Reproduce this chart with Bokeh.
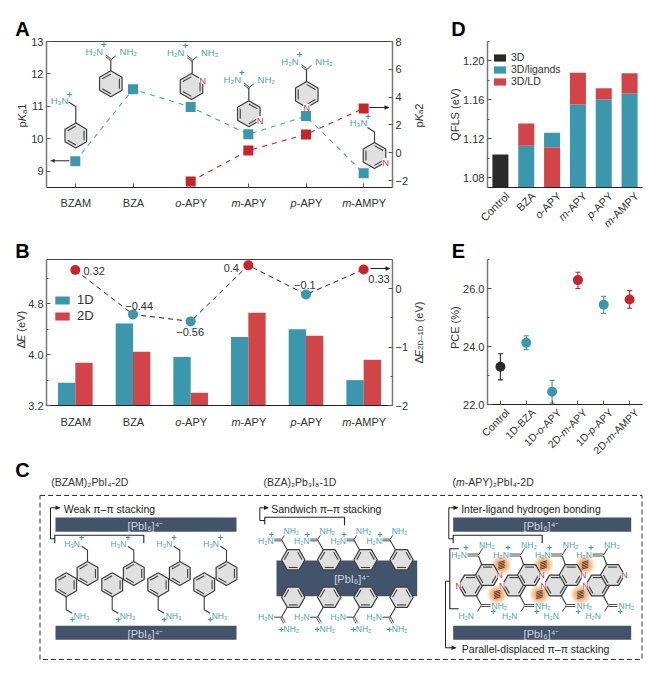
import math
from bokeh.plotting import figure
from bokeh.layouts import column, row
from bokeh.models import (Range1d, LinearAxis, FixedTicker, Label, Legend, LegendItem,
                          PrintfTickFormatter)
from bokeh.core.properties import value
from bokeh.embed import file_html
from bokeh.resources import INLINE

# ---------------- data ----------------
ligands = ["BZAM", "BZA", "o-APY", "m-APY", "p-APY", "m-AMPY"]
pka1 = [9.31, 11.53, 10.98, 10.14, 10.70, 8.94]
pka2_x = [2, 3, 4, 5]
pka2 = [-2.07, 0.16, 1.32, 3.19]
de_1d = [3.56, 4.49, 3.965, 4.28, 4.40, 3.60]
de_2d = [3.875, 4.045, 3.40, 4.66, 4.30, 3.92]
de_diff = [0.32, -0.44, -0.56, 0.40, -0.10, 0.33]
de_diff_labels = ["0.32", "\u22120.44", "\u22120.56", "0.4", "\u22120.1", "0.33"]
qfls_cats = ["Control", "BZA", "o-APY", "m-APY", "p-APY", "m-AMPY"]
qfls_3d = [1.1038]
qfls_ligands = [1.1128, 1.1263, 1.1553, 1.1605, 1.1667]
qfls_ld = [1.1357, 1.111, 1.1878, 1.1719, 1.1875]
pce_cats = ["Control", "1D-BZA", "1D-o-APY", "2D-m-APY", "1D-p-APY", "2D-m-AMPY"]
pce = [23.3, 24.13, 22.44, 26.29, 25.44, 25.62]
pce_hi = [23.75, 24.37, 22.83, 26.56, 25.73, 25.93]
pce_lo = [22.85, 23.89, 22.05, 26.0, 25.14, 25.32]

# ---------------- styles ----------------
TEAL = "#3a97ad"
TEAL_T = "#4ba3b8"
RED = "#c8242b"
RED_B = "#d24448"
DARK = "#2a2a2a"
TXT = "#333333"
SLATE = "#43536b"
FONT = "Liberation Sans"
W = {"A": .667, "B": .667, "C": .722, "D": .722, "E": .667, "F": .611, "G": .778, "H": .722, "I": .278,
     "K": .667, "L": .556, "M": .833, "N": .722, "O": .778, "P": .667, "Q": .778, "R": .722, "S": .667,
     "T": .611, "V": .667, "Y": .667, "Z": .611, "a": .556, "b": .556, "c": .5, "d": .556, "e": .556,
     "g": .556, "h": .556, "i": .222, "k": .5, "l": .222, "m": .833, "n": .556, "o": .556, "p": .556,
     "r": .333, "s": .5, "t": .278, "u": .556, "w": .722, "y": .5, "-": .333, "(": .333, ")": .333,
     " ": .278, "\u00a0": .278, "/": .278, "\u2082": .36, "\u2083": .36, "\u2084": .36}


class Panel:
    """Figure whose frame fills the canvas; maps reference-page pixels to data values."""

    def __init__(self, cx0, cy0, cw, ch, x0, x1, y0, y1, xa, xb, ytop, ybot, extra=None):
        self.x0, self.x1, self.y0, self.y1 = x0, x1, y0, y1
        self.xa, self.xb, self.ytop, self.ybot = xa, xb, ytop, ybot
        self.p = figure(width=cw, height=ch, toolbar_location=None, output_backend="svg", tools="",
                        min_border=0, x_axis_location=None, y_axis_location=None,
                        x_range=Range1d(self.fx(cx0), self.fx(cx0 + cw)),
                        y_range=Range1d(self.fy(cy0 + ch), self.fy(cy0)))
        self.p.grid.visible = False
        self.p.outline_line_color = None
        self.p.background_fill_alpha = 0
        self.p.border_fill_alpha = 0
        if extra:
            t, b = extra
            k = (b - t) / (y1 - y0)
            self.p.extra_y_ranges = {"r": Range1d(t + (cy0 + ch - y0) * k, t + (cy0 - y0) * k)}

    def fx(self, px):
        return self.xa + (px - self.x0) * (self.xb - self.xa) / (self.x1 - self.x0)

    def fy(self, py):
        return self.ytop + (py - self.y0) * (self.ybot - self.ytop) / (self.y1 - self.y0)

    def px(self, x):
        return self.x0 + (x - self.xa) * (self.x1 - self.x0) / (self.xb - self.xa)


def seg_w(t, size):
    return sum(W.get(c, .556) for c in t) * size


def rich(P, px, py, segs, size=11, color=TXT, align="left", angle=0, font=FONT):
    """Text made of several runs. (px, py) is the vertical centre of the text at its anchor."""
    a = math.radians(angle)
    dx, dy = math.cos(a), -math.sin(a)      # along the text, reference pixels, y down
    nx, ny = math.sin(a), math.cos(a)       # towards below the text
    widths = [seg_w(t, size * .72 if k == "sub" else size) for t, k in segs]
    tot = sum(widths)
    s = {"left": 0, "center": -tot / 2, "right": -tot}[align]
    for (t, k), wd in zip(segs, widths):
        sz = size * .72 if k == "sub" else size
        drop = size * .22 if k == "sub" else 0
        x = px + dx * s + nx * drop
        y = py + dy * s + ny * drop
        P.p.add_layout(Label(x=P.fx(x), y=P.fy(y), text=t, text_font=font,
                             text_font_size=f"{sz:.1f}px", text_color=color,
                             text_font_style="italic" if k == "i" else "normal",
                             text_align="left", text_baseline="alphabetic",
                             angle=angle, angle_units="deg"))
        s += wd


def name_segs(name):
    """Italicise a positional prefix such as o-, m-, p-."""
    for pre in ("1D-", "2D-", ""):
        if name.startswith(pre) and name[len(pre):len(pre) + 2] in ("o-", "m-", "p-"):
            out = [(pre, "n")] if pre else []
            return out + [(name[len(pre)], "i"), (name[len(pre) + 1:], "n")]
    return [(name, "n")]


def letter(P, px, py, t):
    P.p.add_layout(Label(x=P.fx(px), y=P.fy(py + 4), text=t, text_font=FONT,
                         text_font_size="20px", text_font_style="bold", text_color="#000000",
                         text_align="center", text_baseline="alphabetic"))


def line(P, pts, color="#222222", width=1.1, dash="solid"):
    P.p.line([P.fx(a) for a, _ in pts], [P.fy(b) for _, b in pts], line_color=color,
             line_width=width, line_dash=dash)


def arrow(P, pts, color="#222222", width=1.0):
    line(P, pts, color, width)
    (x0, y0), (x1, y1) = pts[-2], pts[-1]
    L = math.hypot(x1 - x0, y1 - y0)
    ux, uy = (x1 - x0) / L, (y1 - y0) / L
    hx = [x1 + 1, x1 - 4 * ux - 2.2 * uy, x1 - 4 * ux + 2.2 * uy]
    hy = [y1, y1 - 4 * uy + 2.2 * ux, y1 - 4 * uy - 2.2 * ux]
    P.p.patch([P.fx(v) for v in hx], [P.fy(v) for v in hy], fill_color=color, line_color=None)


def text(P, px, py, t, color=TEAL_T, size=9.5, align="center", bold=False):
    P.p.text([P.fx(px)], [P.fy(py)], text=[t], text_color=color, text_font=value(FONT),
             text_font_size=f"{size}px", text_align=align, text_baseline="middle",
             text_font_style="bold" if bold else "normal")


def ring(P, cx, cy, r=12.0, pointy=True, N=None, dbl=0, nsize=9):
    """Hexagon with inner double bonds; N = vertex index that carries the nitrogen."""
    start = 90 if pointy else 0
    v = [(cx + r * math.cos(math.radians(start + 60 * k)), cy - r * math.sin(math.radians(start + 60 * k)))
         for k in range(6)]
    P.p.patch([P.fx(a) for a, _ in v], [P.fy(b) for _, b in v], fill_color="#e0e0e0",
              line_color="#3c3c3c", line_width=1.2)
    for k in range(dbl, 6, 2):
        a, b = v[k], v[(k + 1) % 6]
        f = .76
        line(P, [(cx + (a[0] - cx) * f, cy + (a[1] - cy) * f), (cx + (b[0] - cx) * f, cy + (b[1] - cy) * f)],
             "#3c3c3c", 1.1)
    if N is not None:
        nx, ny = v[N]
        P.p.scatter([P.fx(nx)], [P.fy(ny)], size=8, fill_color="#ffffff", line_color=None)
        text(P, nx, ny, "N", "#d8343f", nsize)
    return v


def amidine_up(P, x, yc, ytop):
    line(P, [(x, ytop), (x, yc)], "#3c3c3c", 1.2)
    line(P, [(x, yc), (x + 5, yc - 4)], "#3c3c3c", 1.0)
    line(P, [(x, yc - 1), (x - 5, yc - 5)], "#3c3c3c", 1.0)
    line(P, [(x, yc + 1), (x - 5, yc - 3)], "#3c3c3c", 1.0)
    text(P, x - 16.5, yc - 8, "H\u2082N")
    text(P, x + 17.5, yc - 8, "NH\u2082")
    text(P, x - 7, yc - 14.5, "+", TEAL, 9.5, bold=True)


def style_axis(ax, ticks, minor=(), color="#777777", lw=1.5, in_len=4):
    ax.ticker = FixedTicker(ticks=list(ticks), minor_ticks=list(minor))
    ax.axis_line_color = color
    ax.axis_line_width = lw
    ax.major_tick_line_color = "#555555"
    ax.minor_tick_line_color = "#555555"
    ax.major_tick_in = in_len
    ax.major_tick_out = 0
    ax.minor_tick_in = 2
    ax.minor_tick_out = 0
    ax.major_label_text_font = FONT
    ax.major_label_text_font_size = "11px"
    ax.major_label_text_color = TXT
    ax.major_label_standoff = 3


def add_y(P, side, where, bounds, ticks, minor=(), fmt=None, overrides=None, range_name=None):
    ax = LinearAxis(fixed_location=where, bounds=bounds)
    if range_name:
        ax.y_range_name = range_name
    style_axis(ax, ticks, minor)
    if fmt:
        ax.formatter = PrintfTickFormatter(format=fmt)
    if overrides:
        ax.major_label_overrides = overrides
    P.p.add_layout(ax, side)
    return ax


def add_x(P, where, ticks, in_len=4):
    ax = LinearAxis(fixed_location=where, bounds=(-.5, 5.5))
    style_axis(ax, ticks, (), "#222222", 1.2, in_len)
    ax.major_label_overrides = {t: "" for t in ticks}
    ax.major_label_text_font_size = "1px"
    P.p.add_layout(ax, "below")
    return ax


xs = list(range(6))

# ---------------- panel A ----------------
PA = Panel(0, 0, 440, 232, 46, 392, 41, 187, -.5, 5.5, 13, 8.5, extra=(8, -2.5))
pA = PA.p
add_y(PA, "left", -.5, (8.5, 13), range(9, 14))
add_y(PA, "right", 5.5, (-2.5, 8), [-2, 0, 2, 4, 6, 8],
      overrides={-2: "\u22122", 0: "0", 2: "2", 4: "4", 6: "6", 8: "8"}, range_name="r")
add_x(PA, 8.5, range(6))
pA.line([-.5, 5.5], [13, 13], line_color="#444444", line_width=1.2)

pA.line(xs, pka1, line_color=TEAL_T, line_dash="5 5", line_width=1.1)
pA.line(pka2_x, pka2, line_color=RED, line_dash="5 5", line_width=1.1, y_range_name="r")

# molecules in A
ring(PA, 75.3, 135, 12.5)
line(PA, [(75.3, 122.5), (75.3, 106), (68, 101.5)], "#3c3c3c", 1.2)
text(PA, 59, 100, "H\u2083N")
text(PA, 69, 94, "+", TEAL, 9.5, bold=True)
ring(PA, 110.3, 83.3, 13)
amidine_up(PA, 110.3, 59.3, 70.3)
ring(PA, 191, 86, 13, N=5, nsize=9.5)
amidine_up(PA, 191.7, 60, 73)
ring(PA, 248.3, 113.3, 13, N=4, nsize=9.5, dbl=1)
amidine_up(PA, 248.3, 87.3, 100.3)
ring(PA, 306.3, 94, 13, N=3, nsize=9.5, dbl=1)
amidine_up(PA, 306, 69, 81)
ring(PA, 374, 155, 13, N=4, nsize=9.5, dbl=1)
line(PA, [(374, 142), (374, 131.5), (367, 127)], "#3c3c3c", 1.2)
text(PA, 358, 122, "H\u2083N")
text(PA, 367.5, 116, "+", TEAL, 9.5, bold=True)
arrow(PA, [(69, 160.3), (50, 160.3)])
arrow(PA, [(369, 107), (388, 107)])

pA.scatter(xs, pka1, marker="square", size=10, fill_color=TEAL, line_color=None)
pA.scatter(pka2_x, pka2, marker="square", size=10, fill_color=RED, line_color=None, y_range_name="r")

for i, n in enumerate(ligands):
    rich(PA, PA.px(i) + 0.5, 202, name_segs(n), align="center")
rich(PA, 21.7, 115, [("p", "n"), ("K", "i"), ("a", "sub"), ("1", "n")], align="center", angle=90)
rich(PA, 418, 115, [("p", "n"), ("K", "i"), ("a", "sub"), ("2", "n")], align="center", angle=90)
letter(PA, 22, 24, "A")

# ---------------- panel B ----------------
PB = Panel(0, 232, 440, 226, 46, 392, 259, 405, -.5, 5.5, 5.5, 3.2, extra=(.5, -2))
pB = PB.p
b1 = pB.vbar([i - .15 for i in xs], width=.30, top=de_1d, bottom=3.2, fill_color=TEAL, line_color=None)
b2 = pB.vbar([i + .15 for i in xs], width=.30, top=de_2d, bottom=3.2, fill_color=RED_B, line_color=None)
add_y(PB, "left", -.5, (3.2, 5.5), [3.2, 4.0, 4.8], [3.6, 4.4, 5.2], fmt="%.1f")
add_y(PB, "right", 5.5, (-2, .5), [-2, -1, 0], [-1.5, -.5],
      overrides={-2: "\u22122", -1: "\u22121", 0: "0"}, range_name="r")
add_x(PB, 3.2, range(6), 0)
pB.line([-.5, 5.5], [5.5, 5.5], line_color="#444444", line_width=1.2)
pB.add_layout(Legend(items=[LegendItem(label="1D", renderers=[b1]), LegendItem(label="2D", renderers=[b2])],
                     location=(53, 135), padding=0, margin=0, spacing=1, glyph_width=18, glyph_height=10,
                     label_height=10, label_standoff=6, label_text_font=FONT, label_text_font_size="13px",
                     label_text_color=TXT, background_fill_alpha=0, border_line_color=None))
pB.line(xs, de_diff, line_color="#222222", line_dash="5 4", line_width=1.0, y_range_name="r")
pB.scatter(xs, de_diff, marker="circle", size=10, line_color=None, y_range_name="r",
           fill_color=[RED if v > 0 else TEAL for v in de_diff])
label_pos = [(83, 270.3, "left"), (140, 305.7, "center"), (191, 331.3, "center"), (232.3, 267, "center"),
             (305.7, 284, "center"), (380, 278.3, "center")]
for (lx, ly, al), t in zip(label_pos, de_diff_labels):
    rich(PB, lx, ly, [(t, "n")], size=11, align=al)
arrow(PB, [(370, 268), (389, 268)])
for i, n in enumerate(ligands):
    rich(PB, PB.px(i) + 0.5, 421, name_segs(n), align="center")
rich(PB, 20.7, 329, [("\u0394", "n"), ("E", "i"), ("\u00a0(eV)", "n")], align="center", angle=90)
rich(PB, 418, 332, [("\u0394", "n"), ("E", "i"), ("2D\u20131D", "sub"), ("\u00a0(eV)", "n")], align="center", angle=90)
letter(PB, 22, 246, "B")

# ---------------- panel D ----------------
PD = Panel(440, 0, 204, 232, 487, 642, 41, 187, -.5, 5.5, 1.22, 1.07)
pD = PD.p
xl = xs[1:]
blue_bot = [1.07 if a <= b else b for a, b in zip(qfls_ligands, qfls_ld)]
red_bot = [1.07 if b < a else a for a, b in zip(qfls_ligands, qfls_ld)]
d0 = pD.vbar(xs[:1], width=.62, top=qfls_3d, bottom=1.07, fill_color=DARK, line_color=None)
d1 = pD.vbar(xl, width=.62, top=qfls_ligands, bottom=blue_bot, fill_color=TEAL, line_color=None)
d2 = pD.vbar(xl, width=.62, top=qfls_ld, bottom=red_bot, fill_color=RED_B, line_color=None)
add_y(PD, "left", -.5, (1.07, 1.22), [1.08, 1.12, 1.16, 1.20], [1.10, 1.14, 1.18, 1.22], fmt="%.2f")
add_x(PD, 1.07, range(6), 0)
pD.add_layout(Legend(items=[LegendItem(label="3D", renderers=[d0]), LegendItem(label="3D/ligands", renderers=[d1]),
                            LegendItem(label="3D/LD", renderers=[d2])],
                     location=(52, 145), padding=0, margin=0, spacing=0, glyph_width=15, glyph_height=9,
                     label_height=9, label_standoff=4, label_text_font=FONT, label_text_font_size="10.5px",
                     label_text_color=TXT, background_fill_alpha=0, border_line_color=None))
for i, n in enumerate(qfls_cats):
    rich(PD, PD.px(i) + 7, 193.5, name_segs(n), align="right", angle=45)
rich(PD, 454, 114, [("QFLS (eV)", "n")], align="center", angle=90)
letter(PD, 458, 24, "D")

# ---------------- panel E ----------------
PE = Panel(440, 232, 204, 226, 487, 642, 259, 404, -.5, 5.5, 27, 22)
pE = PE.p
add_y(PE, "left", -.5, (22, 27), [22, 24, 26], [23, 25, 27], fmt="%.1f")
add_x(PE, 22, range(6))
pce_colors = [DARK, TEAL, TEAL, RED, TEAL, RED]
pE.segment(xs, pce_lo, xs, pce_hi, line_color=pce_colors, line_width=1.1)
pE.scatter(xs, pce_hi, marker="dash", size=5, line_color=pce_colors, line_width=1.1)
pE.scatter(xs, pce_lo, marker="dash", size=5, line_color=pce_colors, line_width=1.1)
pE.scatter(xs, pce, marker="circle", size=10, fill_color=pce_colors, line_color=None)
for i, n in enumerate(pce_cats):
    rich(PE, PE.px(i) + 7, 410, name_segs(n), size=10.5, align="right", angle=45)
rich(PE, 454, 329, [("PCE (%)", "n")], align="center", angle=90)
letter(PE, 458, 246, "E")

# ---------------- panel C (schematic, drawn in page pixels) ----------------
PC = Panel(0, 458, 644, 207, 0, 644, 458, 665, 0, 644, 458, 665)
pC = PC.p
letter(PC, 22, 465, "C")
rich(PC, 50.7, 481.7, [("(BZAM)\u2082PbI\u2084-2D", "n")], size=10.5)
rich(PC, 263, 481.7, [("(BZA)\u2082Pb\u2083I\u2088-1D", "n")], size=10.5)
rich(PC, 452, 481.7, [("(", "n"), ("m", "i"), ("-APY)\u2082PbI\u2084-2D", "n")], size=10.5)
line(PC, [(39.5, 495), (641.5, 495), (641.5, 659), (39.5, 659), (39.5, 495)], "#333333", 1.0, "5 3")


def pbi_bar(x0, x1, y0, y1, cx, cy):
    pC.quad(left=[x0], right=[x1], top=[y0], bottom=[y1], fill_color=SLATE, line_color=None)
    text(PC, cx, cy, "[PbI\u2086]\u2074\u207b", "#ced5dd", 11)


for xa, xb, c in [(55, 236, 145), (452.7, 630.7, 541)]:
    pbi_bar(xa, xb, 517, 531.3, c, 525.3)
    pbi_bar(xa, xb, 625.3, 639.3, c, 633.3)

# left column
rich(PC, 63.3, 508.7, [("Weak \u03c0\u2013\u03c0 stacking", "n")], size=10.5, color="#222222")
arrow(PC, [(54.3, 538.3), (50, 538.3), (50, 507.3), (59, 507.3)])
line(PC, [(54.3, 542.7), (54.3, 534.7), (143.3, 534.7), (143.3, 542.7)])
for ux, lx in zip([87, 133.3, 179.3, 226], [65.7, 111.7, 157.7, 203.7]):
    ring(PC, ux, 573, 12)
    line(PC, [(ux, 561), (ux, 549.7), (ux - 6, 545.7)], "#3c3c3c", 1.1)
    text(PC, ux - 7.5, 543.3, "H\u2083N", size=8.5, align="right")
    text(PC, ux - 6, 537.5, "+", TEAL, 9, bold=True)
    ring(PC, lx, 584.3, 12)
    line(PC, [(lx, 596.3), (lx, 609.3), (lx + 6, 612.7)], "#3c3c3c", 1.1)
    text(PC, lx + 7.5, 615.3, "NH\u2083", size=8.5, align="left")
    text(PC, lx + 6, 619.5, "+", TEAL, 9, bold=True)

# middle column
rich(PC, 270.7, 508.7, [("Sandwich \u03c0\u2013\u03c0  stacking", "n")], size=10.5, color="#222222")
arrow(PC, [(264.3, 520), (259.3, 520), (259.3, 507.3), (267.5, 507.3)])
line(PC, [(264.3, 524), (264.3, 516.7), (344, 516.7), (344, 524.7)])
pC.quad(left=[276], right=[416.7], top=[560], bottom=[595.7], fill_color=SLATE, line_color=None)
text(PC, 351.7, 578.7, "[PbI\u2086]\u2074\u207b", "#ced5dd", 11)
for x in [292.7, 328.7, 365, 401]:
    ring(PC, x, 559.3, 11.7, pointy=False)
    line(PC, [(x - 6, 549.3), (x - 11.7, 539.3)], "#3c3c3c", 1.1)
    line(PC, [(x - 19, 538.6), (x - 11.7, 538.6)], "#3c3c3c", 0.9)
    line(PC, [(x - 19, 540.4), (x - 11.7, 540.4)], "#3c3c3c", 0.9)
    line(PC, [(x - 11.7, 539.3), (x - 9, 535)], "#3c3c3c", 1.0)
    text(PC, x - 19.5, 540, "H\u2082N", size=8.5, align="right")
    text(PC, x - 9.7, 530.7, "NH\u2082", size=8.5, align="left")
    text(PC, x - 21.7, 534, "+", TEAL, 9, bold=True)
    ring(PC, x, 596.7, 11.7, pointy=False)
    line(PC, [(x - 6, 606.7), (x - 11.7, 616.7)], "#3c3c3c", 1.1)
    line(PC, [(x - 19, 616.7), (x - 11.7, 616.7)], "#3c3c3c", 1.0)
    line(PC, [(x - 12.5, 617.5), (x - 9.5, 623)], "#3c3c3c", 0.9)
    line(PC, [(x - 10.9, 616.5), (x - 7.9, 622)], "#3c3c3c", 0.9)
    text(PC, x - 19.5, 616.7, "H\u2082N", size=8.5, align="right")
    text(PC, x - 9.7, 628, "NH\u2082", size=8.5, align="left")
    text(PC, x - 12, 629, "+", TEAL, 9, bold=True)

# right column
rich(PC, 460.7, 508.7, [("Inter-ligand hydrogen bonding", "n")], size=10.5, color="#222222")
arrow(PC, [(452.7, 538.3), (448.3, 538.3), (448.3, 507.3), (457, 507.3)])
line(PC, [(452.7, 542.7), (452.7, 534.7), (541.7, 534.7), (541.7, 542.7)])
rich(PC, 461.3, 648.7, [("Parallel-displaced \u03c0\u2013\u03c0 stacking", "n")], size=10.5, color="#222222")
arrow(PC, [(449.3, 580.7), (445, 580.7), (445, 647.3), (455, 647.3)])
line(PC, [(458.3, 548.3), (449.3, 548.3), (449.3, 608.3), (458.3, 608.3)])

for gx, gy in [(501, 564.5), (543, 564.5), (584.5, 564.5), (496.7, 594), (539, 594), (580, 594)]:
    for r, al in [(10, .18), (8.5, .25), (7, .35), (5.5, .45)]:
        pC.scatter([gx], [gy], size=2 * r, fill_color="#f59a55", fill_alpha=al, line_color=None)

upper = [487, 529, 570.7, 612]
lower = [470, 513.5, 555, 597]
for x in lower:
    ring(PC, x, 585, 12, pointy=False, dbl=1)
    line(PC, [(x + 5.5, 594.6), (x + 10.7, 604.3)], "#3c3c3c", 1.1)
    line(PC, [(x + 10.7, 604), (x + 20, 604)], "#3c3c3c", 0.9)
    line(PC, [(x + 10.7, 606), (x + 20, 606)], "#3c3c3c", 0.9)
    line(PC, [(x + 10.7, 605), (x + 7, 611)], "#3c3c3c", 1.0)
    text(PC, x + 21, 605, "NH\u2082", size=8.5, align="left")
    text(PC, x + 3.5, 615, "H\u2082N", size=8.5, align="right")
    text(PC, x + 22.7, 611, "+", TEAL, 9, bold=True)
for x in upper:
    ring(PC, x, 574.5, 12, pointy=False, dbl=1)
    line(PC, [(x - 5.7, 564.5), (x - 9, 555.5)], "#3c3c3c", 1.1)
    line(PC, [(x - 9, 553.5), (x - 20, 553.5)], "#3c3c3c", 0.9)
    line(PC, [(x - 9, 555.5), (x - 20, 555.5)], "#3c3c3c", 0.9)
    line(PC, [(x - 9, 554.5), (x - 5, 548)], "#3c3c3c", 1.0)
    text(PC, x - 20.7, 554.5, "H\u2082N", size=8.5, align="right")
    text(PC, x - 8.4, 544.5, "NH\u2082", size=8.5, align="left")
    text(PC, x - 21.7, 547.5, "+", TEAL, 9, bold=True)
for x in lower:
    pC.scatter([x - 12], [585], size=7, fill_color="#ffffff", line_color=None)
    text(PC, x - 12, 585, "N", "#d8343f", 8.5)
for x in upper:
    pC.scatter([x + 12], [574.5], size=7, fill_color="#ffffff", line_color=None)
    text(PC, x + 12, 574.5, "N", "#d8343f", 8.5)

# hydrogen-bond hatching on the glows
for gx, gy in [(501, 564.5), (543, 564.5), (584.5, 564.5), (496.7, 594), (539, 594), (580, 594)]:
    for k in range(-2, 3):
        line(PC, [(gx - 3.2, gy + k * 1.6 + 1), (gx + 3.2, gy + k * 1.6 - 1)], "#222222", 0.8)

layout = column(row(PA.p, PD.p, spacing=0), row(PB.p, PE.p, spacing=0), PC.p, spacing=0)
open("out.html", "w").write(file_html(layout, INLINE))
